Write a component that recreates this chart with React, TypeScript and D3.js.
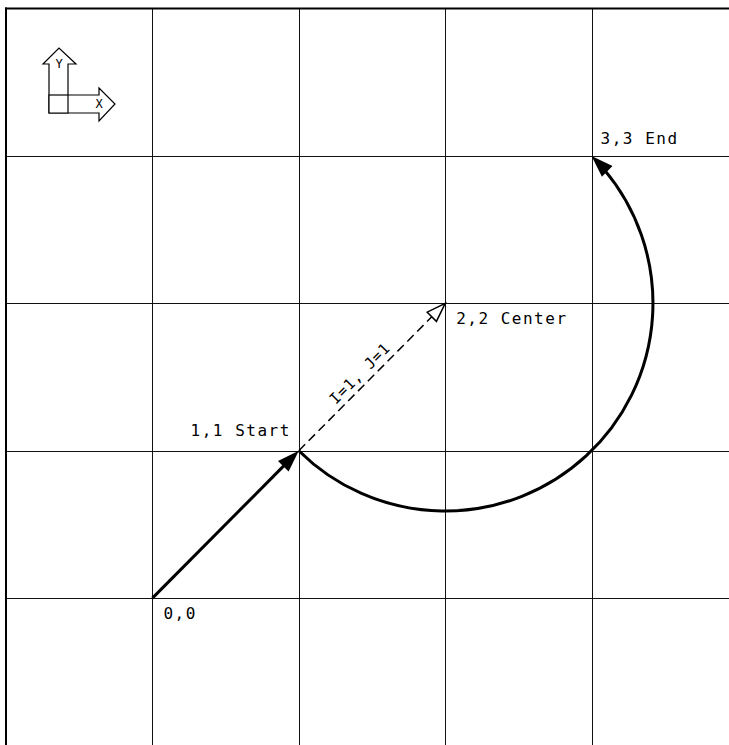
import React, { useEffect, useRef } from 'react';
import * as d3 from 'd3';

// grid units shown on the drawing
const gridTicks = [0, 1, 2, 3];

// the three points of the G-code arc + origin
const origin = { x: 0, y: 0, label: '0,0' };
const startPt = { x: 1, y: 1, label: '1,1 Start' };
const centerPt = { x: 2, y: 2, label: '2,2 Center' };
const endPt = { x: 3, y: 3, label: '3,3 End' };
const offsetLabel = 'I=1, J=1';

const W = 729;
const H = 745;

export default function App() {
  const ref = useRef<SVGSVGElement | null>(null);

  useEffect(() => {
    const svg = d3.select(ref.current);
    svg.selectAll('*').remove();

    const x = d3.scaleLinear().domain([-1, 4]).range([6, 6 + 5 * 146.4]);
    const y = d3.scaleLinear().domain([-1, 4]).range([745.5, 8.5]);
    const crisp = (v: number) => Math.round(v) + 0.5;

    const font = '"DejaVu Sans Mono", monospace';

    // grid
    const g = svg.append('g');
    g.selectAll('.vline')
      .data(gridTicks)
      .enter()
      .append('line')
      .attr('x1', d => crisp(x(d)))
      .attr('x2', d => crisp(x(d)))
      .attr('y1', y(4))
      .attr('y2', H)
      .attr('stroke', '#111')
      .attr('stroke-width', 1);
    g.selectAll('.hline')
      .data(gridTicks)
      .enter()
      .append('line')
      .attr('x1', x(-1))
      .attr('x2', W)
      .attr('y1', d => crisp(y(d)))
      .attr('y2', d => crisp(y(d)))
      .attr('stroke', '#111')
      .attr('stroke-width', 1);

    // border (left + top)
    svg.append('line')
      .attr('x1', x(-1)).attr('x2', x(-1))
      .attr('y1', y(4) - 1).attr('y2', H)
      .attr('stroke', '#000').attr('stroke-width', 2);
    svg.append('line')
      .attr('x1', x(-1) - 1).attr('x2', W)
      .attr('y1', y(4)).attr('y2', y(4))
      .attr('stroke', '#000').attr('stroke-width', 2);

    // helper: arrowhead polygon at tip pointing along (dx, dy)
    const head = (tx: number, ty: number, dx: number, dy: number, len: number, hw: number) => {
      const n = Math.hypot(dx, dy);
      const ux = dx / n, uy = dy / n;
      const bx = tx - ux * len, by = ty - uy * len;
      return [
        [tx, ty],
        [bx - uy * hw, by + ux * hw],
        [bx + uy * hw, by - ux * hw],
      ];
    };
    const poly = (pts: number[][]) => 'M' + pts.map(p => p.join(',')).join('L') + 'Z';

    // origin -> start (solid arrow)
    const ox = x(origin.x), oy = y(origin.y);
    const sx = x(startPt.x), sy = y(startPt.y);
    const hlen = 22, hhw = 7.5;
    {
      const n = Math.hypot(sx - ox, sy - oy);
      svg.append('line')
        .attr('x1', ox).attr('y1', oy)
        .attr('x2', sx - ((sx - ox) / n) * (hlen - 2))
        .attr('y2', sy - ((sy - oy) / n) * (hlen - 2))
        .attr('stroke', '#000').attr('stroke-width', 3);
      svg.append('path')
        .attr('d', poly(head(sx, sy, sx - ox, sy - oy, hlen, hhw)))
        .attr('fill', '#000');
    }

    // start -> center (dashed, open head)
    const cx = x(centerPt.x), cy = y(centerPt.y);
    {
      const n = Math.hypot(cx - sx, cy - sy);
      const ux = (cx - sx) / n, uy = (cy - sy) / n;
      svg.append('line')
        .attr('x1', sx).attr('y1', sy)
        .attr('x2', cx - ux * 18).attr('y2', cy - uy * 18)
        .attr('stroke', '#000').attr('stroke-width', 1.5)
        .attr('stroke-dasharray', '9,5');
      svg.append('path')
        .attr('d', poly(head(cx, cy, cx - sx, cy - sy, 19, 6.5)))
        .attr('fill', '#fff').attr('stroke', '#000').attr('stroke-width', 1.5)
        .attr('stroke-linejoin', 'miter');

      const ang = (Math.atan2(cy - sy, cx - sx) * 180) / Math.PI;
      const mx = (sx + cx) / 2 - ux * 6 + uy * 6;
      const my = (sy + cy) / 2 - uy * 6 - ux * 6;
      svg.append('text')
        .attr('transform', `translate(${mx},${my}) rotate(${ang})`)
        .attr('text-anchor', 'middle')
        .attr('font-family', font)
        .attr('font-size', 15)
        .attr('letter-spacing', 0.8)
        .text(offsetLabel);
    }

    // arc start -> end around center (counter-clockwise)
    const ex = x(endPt.x), ey = y(endPt.y);
    const r = Math.hypot(sx - cx, sy - cy);
    const a0 = Math.atan2(sy - cy, sx - cx);
    const a1 = Math.atan2(ey - cy, ex - cx);
    const aStop = a1 + (hlen - 4) / r;
    const p = d3.path();
    p.moveTo(sx, sy);
    p.arc(cx, cy, r, a0, aStop, true);
    svg.append('path')
      .attr('d', p.toString())
      .attr('fill', 'none')
      .attr('stroke', '#000')
      .attr('stroke-width', 3);
    // tangent at end, moving with decreasing angle
    const tdx = Math.sin(a1), tdy = -Math.cos(a1);
    svg.append('path')
      .attr('d', poly(head(ex, ey, tdx, tdy, hlen, hhw)))
      .attr('fill', '#000');

    // point labels
    const labels = [
      { p: origin, dx: 11, dy: 21, anchor: 'start' },
      { p: startPt, dx: -8, dy: -15, anchor: 'end' },
      { p: centerPt, dx: 11, dy: 21, anchor: 'start' },
      { p: endPt, dx: 9, dy: -12, anchor: 'start' },
    ];
    svg.selectAll('.lbl')
      .data(labels)
      .enter()
      .append('text')
      .attr('x', d => x(d.p.x) + d.dx)
      .attr('y', d => y(d.p.y) + d.dy)
      .attr('text-anchor', d => d.anchor)
      .attr('font-family', font)
      .attr('font-size', 16)
      .attr('letter-spacing', 1.5)
      .text(d => d.p.label);

    // UCS icon, top left
    const icon = svg.append('g').attr('transform', 'translate(49,113)')
      .attr('fill', '#fff').attr('stroke', '#000').attr('stroke-width', 1.2);
    icon.append('path')
      .attr('d', 'M0,0 L0,-18 L50,-18 L50,-25 L66,-9 L50,8 L50,0 Z');
    icon.append('path')
      .attr('d', 'M0,0 L0,-49 L-6,-49 L10,-65 L27,-49 L19,-49 L19,0 Z');
    icon.append('path').attr('d', 'M0,-18 L19,-18').attr('fill', 'none');
    icon.append('text')
      .attr('x', 10).attr('y', -45)
      .attr('text-anchor', 'middle')
      .attr('font-family', font).attr('font-size', 12)
      .attr('fill', '#000').attr('stroke', 'none')
      .text('Y');
    icon.append('text')
      .attr('x', 50).attr('y', -5)
      .attr('text-anchor', 'middle')
      .attr('font-family', font).attr('font-size', 12)
      .attr('fill', '#000').attr('stroke', 'none')
      .text('X');
  }, []);

  return (
    <svg
      ref={ref}
      width={W}
      height={H}
      style={{ position: 'absolute', left: 0, top: 0, background: '#fff' }}
    />
  );
}
